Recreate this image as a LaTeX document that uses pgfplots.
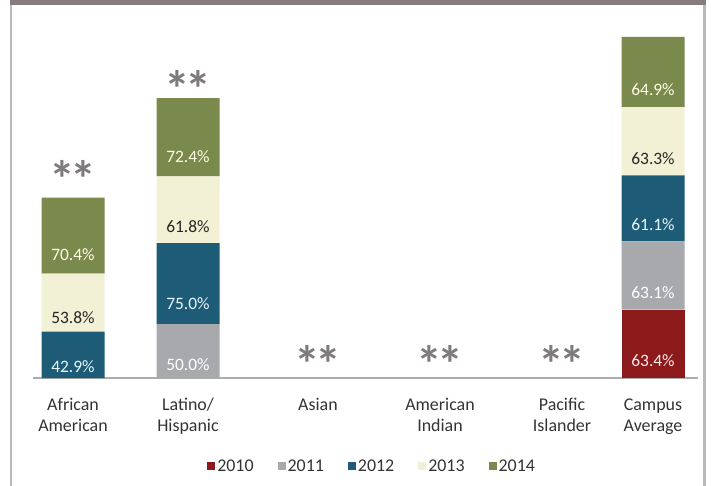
\documentclass[border=0pt]{standalone}
\usepackage{fontspec}
\setmainfont{Carlito}
\usepackage{pgfplots}
\pgfplotsset{compat=1.18}

\definecolor{c2010}{HTML}{8C1A1B}
\definecolor{c2011}{HTML}{A8A9AD}
\definecolor{c2012}{HTML}{1D5B76}
\definecolor{c2013}{HTML}{F2F1D5}
\definecolor{c2014}{HTML}{7A894C}
\definecolor{framegray}{HTML}{857D7A}
\definecolor{stargray}{HTML}{7F7B7A}

\begin{document}
\begin{tikzpicture}
% page frame, origin at the axis' lower left corner
\useasboundingbox (-33bp,-108bp) rectangle (678bp,378bp);
\fill[framegray] (-23bp,373bp) rectangle (673bp,378bp);
\fill[gray!55] (-23bp,-108bp) rectangle (-21bp,373bp);
\fill[gray!55] (670bp,-108bp) rectangle (673bp,373bp);

\begin{axis}[
    scale only axis,
    width=665bp, height=356bp,
    xmin=33, xmax=698,
    ymin=0, ymax=329.63,
    clip=false,
    ybar stacked,
    bar width=63bp,
    axis x line=bottom,
    axis y line=none,
    x axis line style={-, draw=gray!65, line width=1.6bp},
    xtick={73,188,318,440,562,653},
    xticklabels={African\\American, Latino/\\Hispanic, Asian, American\\Indian, Pacific\\Islander, Campus\\Average},
    xticklabel style={align=center, font=\fontsize{18}{21}\selectfont, text=black!80, yshift=-17bp},
    major tick length=0pt,
    point meta=explicit symbolic,
    visualization depends on={rawy \as \rawy},
    nodes near coords={\pgfplotspointmeta},
    every node near coord/.append style={anchor=center, yshift=-0.271*\rawy,
        font=\fontsize{17.5}{20}\selectfont},
    legend style={at={(0.51,-0.247)}, anchor=center, draw=none,
        font=\fontsize{18}{20}\selectfont, text=black!80,
        /tikz/every even column/.append style={column sep=22bp}},
    legend columns=-1,
    legend image code/.code={\draw[#1,draw=none] (2bp,-4bp) rectangle (10bp,4bp);},
]
\addplot[fill=c2010, draw=none, every node near coord/.append style={text=red!8}] coordinates {
    (73,0) [] (188,0) [] (318,0) [] (440,0) [] (562,0) [] (653,63.4) [63.4\%]
};
\addplot[fill=c2011, draw=none, every node near coord/.append style={text=white}] coordinates {
    (73,0) [] (188,50.0) [50.0\%] (318,0) [] (440,0) [] (562,0) [] (653,63.1) [63.1\%]
};
\addplot[fill=c2012, draw=none, every node near coord/.append style={text=cyan!10}] coordinates {
    (73,42.9) [42.9\%] (188,75.0) [75.0\%] (318,0) [] (440,0) [] (562,0) [] (653,61.1) [61.1\%]
};
\addplot[fill=c2013, draw=none, every node near coord/.append style={text=black!85}] coordinates {
    (73,53.8) [53.8\%] (188,61.8) [61.8\%] (318,0) [] (440,0) [] (562,0) [] (653,63.3) [63.3\%]
};
\addplot[fill=c2014, draw=none, every node near coord/.append style={text=white!90!yellow}] coordinates {
    (73,70.4) [70.4\%] (188,72.4) [72.4\%] (318,0) [] (440,0) [] (562,0) [] (653,64.9) [64.9\%]
};
\legend{2010,2011,2012,2013,2014}

% "**" marks for groups with too few students
\tikzset{stars/.style={text=stargray, font=\fontsize{52}{52}\selectfont\bfseries, inner sep=0pt}}
\newcommand{\twostars}{*\kern-0.1em*}
\node[stars] at (axis cs:73,184) {\twostars};
\node[stars] at (axis cs:188,268) {\twostars};
\node[stars] at (axis cs:318,13) {\twostars};
\node[stars] at (axis cs:440,13) {\twostars};
\node[stars] at (axis cs:562,13) {\twostars};
\end{axis}
\end{tikzpicture}
\end{document}
